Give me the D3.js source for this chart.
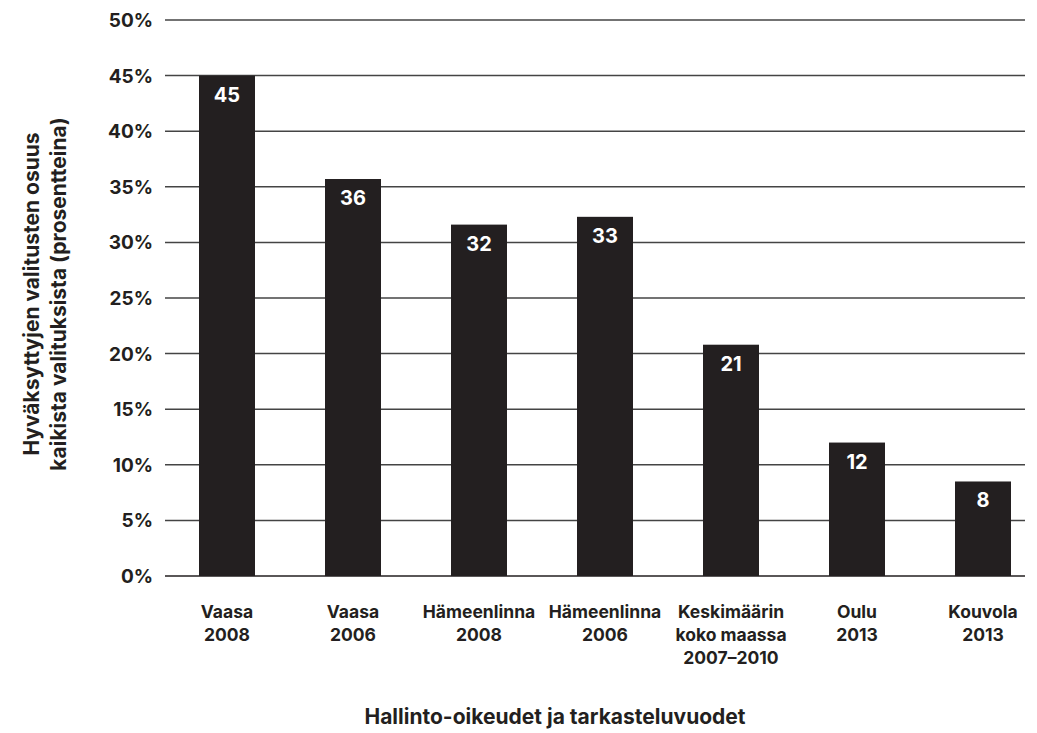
<!DOCTYPE html>
<html>
<head>
<meta charset="utf-8">
<script src="https://cdn.jsdelivr.net/npm/d3@7"></script>
<style>
  body { margin: 0; background: #fff; }
  text { font-family: Inter, "Liberation Sans", sans-serif; font-weight: 700; fill: #231f20; }
</style>
</head>
<body>
<div id="chart"></div>
<script>
/* DATA */
var courts = [["Vaasa", "2008"], ["Vaasa", "2006"], ["Hämeenlinna", "2008"], ["Hämeenlinna", "2006"],
              ["Keskimäärin", "koko maassa", "2007–2010"], ["Oulu", "2013"], ["Kouvola", "2013"]];
var shares = [45, 35.7, 31.6, 32.3, 20.8, 12.0, 8.5];
var shareLabels = ["45", "36", "32", "33", "21", "12", "8"];
var yTicks = [0, 5, 10, 15, 20, 25, 30, 35, 40, 45, 50];
var yTitle = ["Hyväksyttyjen valitusten osuus", "kaikista valituksista (prosentteina)"];
var xTitle = "Hallinto-oikeudet ja tarkasteluvuodet";

var width = 1037, height = 733;
var margin = {top: 20, left: 165, right: 12, bottom: 157};

var svg = d3.select("#chart")
    .append("svg")
    .attr("width", width)
    .attr("height", height);

var y = d3.scaleLinear()
    .domain([0, 50])
    .range([height - margin.bottom, margin.top]);

// band layout fitted to the bar centres of the original
var x = d3.scaleBand()
    .domain(d3.range(courts.length))
    .range([136, 1074])
    .paddingInner(0.5556)
    .paddingOuter(0.5);

/* GRIDLINES */
svg.selectAll("line.grid")
    .data(yTicks)
    .enter()
    .append("line")
        .attr("class", "grid")
        .attr("x1", margin.left)
        .attr("x2", width - margin.right)
        .attr("y1", function(d) { return y(d); })
        .attr("y2", function(d) { return y(d); })
        .attr("stroke", function(d) { return d === 0 ? "#231f20" : "#444"; })
        .attr("stroke-width", 1.5);

svg.selectAll("text.ytick")
    .data(yTicks)
    .enter()
    .append("text")
        .attr("class", "ytick")
        .attr("x", 153)
        .attr("y", function(d) { return y(d) + 7; })
        .attr("text-anchor", "end")
        .attr("font-size", 19)
        .text(function(d) { return d + "%"; });

/* BARS */
svg.selectAll("rect.bar")
    .data(shares)
    .enter()
    .append("rect")
        .attr("class", "bar")
        .attr("x", function(d, i) { return x(i); })
        .attr("y", function(d) { return y(d); })
        .attr("width", x.bandwidth())
        .attr("height", function(d) { return y(0) - y(d); })
        .attr("fill", "#231f20");

svg.selectAll("text.val")
    .data(shares)
    .enter()
    .append("text")
        .attr("class", "val")
        .attr("x", function(d, i) { return x(i) + x.bandwidth() / 2; })
        .attr("y", function(d) { return y(d) + 26; })
        .attr("text-anchor", "middle")
        .attr("font-size", 20)
        .style("fill", "#fff")
        .text(function(d, i) { return shareLabels[i]; });

/* CATEGORY LABELS */
var cat = svg.selectAll("text.cat")
    .data(courts)
    .enter()
    .append("text")
        .attr("class", "cat")
        .attr("text-anchor", "middle")
        .attr("font-size", 17.5)
        .attr("x", function(d, i) { return x(i) + x.bandwidth() / 2; })
        .attr("y", 618);

cat.selectAll("tspan")
    .data(function(d) { return d; })
    .enter()
    .append("tspan")
        .attr("x", function() { return d3.select(this.parentNode).attr("x"); })
        .attr("dy", function(d, i) { return i === 0 ? 0 : 23; })
        .text(function(d) { return d; });

/* AXIS TITLES */
svg.selectAll("text.ytitle")
    .data(yTitle)
    .enter()
    .append("text")
        .attr("class", "ytitle")
        .attr("transform", function(d, i) { return "translate(" + (39 + i * 27) + ",294) rotate(-90)"; })
        .attr("text-anchor", "middle")
        .attr("font-size", 21)
        .text(function(d) { return d; });

svg.append("text")
    .attr("x", 555)
    .attr("y", 724)
    .attr("text-anchor", "middle")
    .attr("font-size", 21)
    .text(xTitle);
</script>
</body>
</html>
